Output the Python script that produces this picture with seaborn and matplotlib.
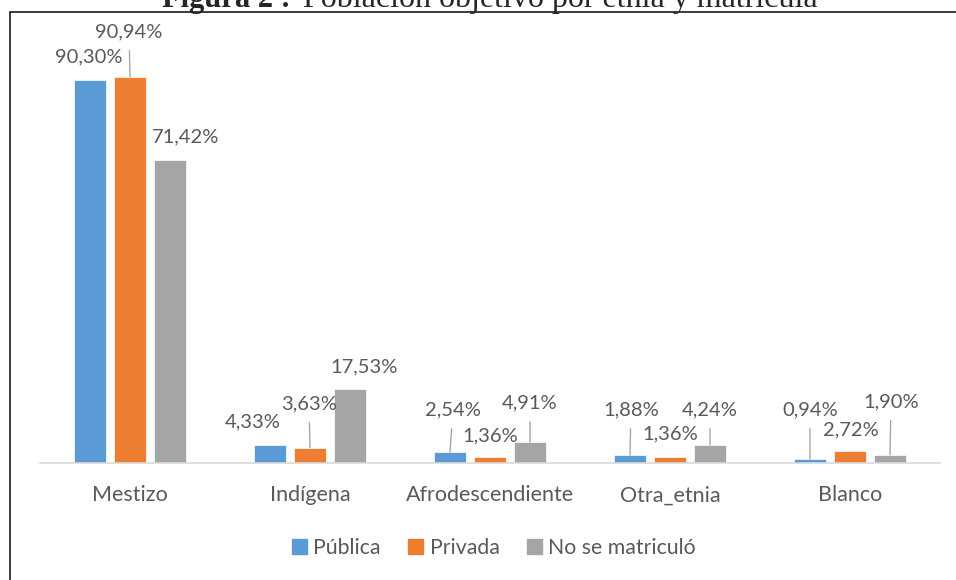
import pandas as pd
import matplotlib.pyplot as plt
import seaborn as sns
from matplotlib.patches import Rectangle, Patch

# datos (porcentajes)
etnias = ['Mestizo', 'Indígena', 'Afrodescendiente', 'Otra_etnia', 'Blanco']
publica = [90.30, 4.33, 2.54, 1.88, 0.94]
privada = [90.94, 3.63, 1.36, 1.36, 2.72]
no_matric = [71.42, 17.53, 4.91, 4.24, 1.90]
series = ['Pública', 'Privada', 'No se matriculó']
colores = ['#5B9BD5', '#ED7D31', '#A5A5A5']

df = pd.DataFrame({
    'Etnia': etnias * 3,
    'Tipo': [s for s in series for _ in etnias],
    'Pct': publica + privada + no_matric,
})

# desplazamiento de etiquetas (dx, dy en pixeles, linea guia)
offs = [
    [(-1, 23, False), (-17, 23, False), (3, 42, True), (1, 45, True), (0, 49, True)],
    [(-1, 45, True), (-1, 44, True), (0, 21, False), (0, 23, False), (1, 22, False)],
    [(16, 23, False), (14, 22, False), (0, 39, True), (0, 35, True), (1, 53, True)],
]

sns.set_style('white')
plt.rcParams['font.family'] = ['Lato', 'DejaVu Sans']
gris_txt = '#595959'

fig = plt.figure(figsize=(9.56, 5.8), dpi=100)
ax = fig.add_axes([40 / 956, 117 / 580, 900 / 956, 424.5 / 580])
sns.barplot(data=df, x='Etnia', y='Pct', hue='Tipo', palette=colores,
            saturation=1, width=0.667, gap=0.2, legend=False, ax=ax,
            edgecolor='white', linewidth=0.5)
ax.set_ylim(0, 100)
ax.set_xlim(-0.5, 4.5)
ax.set_yticks([])
ax.set_xlabel('')
ax.set_ylabel('')
sns.despine(ax=ax, left=True)
ax.spines['bottom'].set_color('#D9D9D9')
ax.spines['bottom'].set_linewidth(1.2)
ax.tick_params(axis='x', length=0, pad=16, labelsize=15.5, labelcolor=gris_txt)

for cont, vals, off in zip(ax.containers, [publica, privada, no_matric], offs):
    for bar, v, (dx, dy, lead) in zip(cont, vals, off):
        x = bar.get_x() + bar.get_width() / 2
        txt = f'{v:.2f}'.replace('.', ',') + '%'
        arrow = dict(arrowstyle='-', color='#A6A6A6', lw=1, shrinkA=5, shrinkB=0) if lead else None
        ax.annotate(txt, (x, v), xytext=(dx, dy), textcoords='offset pixels',
                    ha='center', va='center', fontsize=14.5, color=gris_txt,
                    arrowprops=arrow)

handles = [Patch(color=c) for c in colores]
fig.legend(handles, series, loc='center', bbox_to_anchor=(494 / 956, 32 / 580),
           ncol=3, frameon=False, fontsize=15.3, labelcolor=gris_txt,
           handlelength=0.7, handleheight=0.7, handletextpad=0.3, columnspacing=1.3)

# marco y titulo (cortado arriba, como en el original)
fig.add_artist(Rectangle((9.5 / 956, -0.1), 1.2, 1.1 - 11.5 / 580,
                         transform=fig.transFigure, fill=False,
                         edgecolor='#1a1a1a', linewidth=1.2))
fig.text(162 / 956, 1 - 6.5 / 580, 'Figura 2 :', family='Liberation Serif',
         fontweight='bold', fontsize=22, ha='left', va='baseline')
fig.text(303 / 956, 1 - 6.5 / 580, 'Población objetivo por etnia y matrícula',
         family='Liberation Serif', fontsize=23, ha='left', va='baseline')

fig.savefig('out.png', dpi=100)
